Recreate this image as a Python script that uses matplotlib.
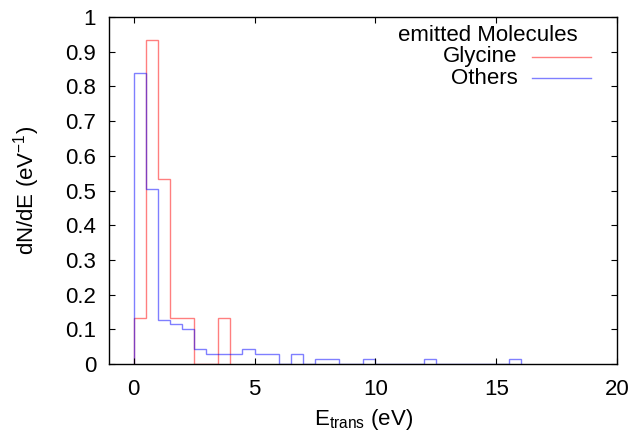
#!/usr/bin/env python3
"""Translational energy distribution of emitted molecules (step histogram)."""

import numpy as np
import matplotlib
matplotlib.use("Agg")
import matplotlib.pyplot as plt

plt.rcParams["font.family"] = ["Liberation Sans", "DejaVu Sans"]
plt.rcParams["mathtext.fontset"] = "custom"
plt.rcParams["mathtext.rm"] = "Liberation Sans"

# bin edges in eV (0.5 eV bins)
glycine_edges = np.arange(0.0, 4.01, 0.5)
glycine_vals = [0.133, 0.933, 0.533, 0.133, 0.133, 0.0, 0.0, 0.133]

others_edges = np.arange(0.0, 16.01, 0.5)
others_vals = [0.838, 0.505, 0.126, 0.114, 0.100, 0.042, 0.029, 0.029,
               0.029, 0.043, 0.029, 0.029, 0.0, 0.029, 0.0, 0.014,
               0.014, 0.0, 0.0, 0.014, 0.0, 0.0, 0.0, 0.0,
               0.014, 0.0, 0.0, 0.0, 0.0, 0.0, 0.0, 0.014]

x_ticks = [0, 5, 10, 15, 20]
y_ticks = [0, 0.1, 0.2, 0.3, 0.4, 0.5, 0.6, 0.7, 0.8, 0.9, 1]
y_ticklabels = ["0", "0.1", "0.2", "0.3", "0.4", "0.5", "0.6", "0.7", "0.8", "0.9", "1"]

red = (1.0, 0.0, 0.0, 0.5)
blue = (0.0, 0.0, 1.0, 0.5)
fs = 16

fig = plt.figure(figsize=(6.32, 4.37), dpi=100)
ax = fig.add_axes([0.173, 0.167, 0.804, 0.794])

ax.stairs(glycine_vals, glycine_edges, color=red, lw=1, baseline=0)
ax.stairs(others_vals, others_edges, color=blue, lw=1, baseline=0)

ax.set_xlim(-1, 20)
ax.set_ylim(0, 1)
ax.set_xticks(x_ticks)
ax.set_yticks(y_ticks)
ax.set_yticklabels(y_ticklabels)
ax.tick_params(direction="in", length=4.5, width=0.8, labelsize=fs,
               top=True, right=True)
ax.tick_params(axis="y", pad=9.5)
ax.tick_params(axis="x", pad=10.5)
for s in ax.spines.values():
    s.set_linewidth(1.0)

ax.set_xlabel(r"E$_\mathregular{trans}$ (eV)", fontsize=fs, labelpad=5)
ax.set_ylabel(r"dN/dE (eV$^\mathregular{-1}$)", fontsize=fs, labelpad=17)

# gnuplot-style key: title, then labels right-aligned with samples on the right
ax.text(0.744, 0.948, "emitted Molecules", transform=ax.transAxes,
        ha="center", va="center", fontsize=fs)
for y, label, col in [(0.886, "Glycine", red), (0.823, "Others", blue)]:
    ax.text(0.803, y, label, transform=ax.transAxes, ha="right", va="center", fontsize=fs)
    ax.plot([0.831, 0.948], [y, y], transform=ax.transAxes, color=col, lw=1)

fig.savefig("out.png", dpi=100)
plt.close(fig)
